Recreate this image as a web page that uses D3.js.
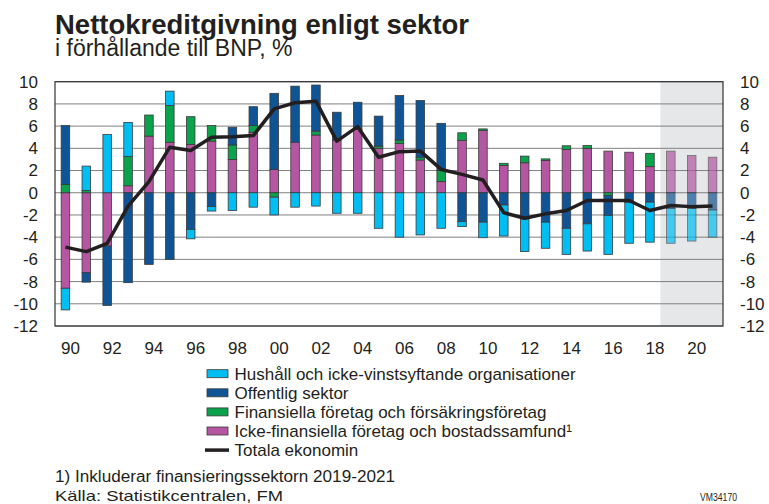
<!DOCTYPE html>
<html>
<head>
	<meta charset="utf-8">
	<title>Nettokreditgivning enligt sektor</title>
	<script src="https://cdn.jsdelivr.net/npm/d3@7"></script>
	<style>
		body {
			margin: 0;
			background: #ffffff;
			font-family: "Liberation Sans", Arial, Helvetica, sans-serif;
		}
		text { fill: #231f20; }
	</style>
</head>
<body>
	<div id="chart"></div>

	<script>

		// data (% of GDP)

		const years = d3.range(1990, 2022);
		const hushall     = [-1.95, 2.2, 5.25, 3.05, 0, 1.3, -0.85, -0.4, -1.6, -1.3, -1.6, -1.3, -1.2, -1.85, -1.85, -3.2, -4.0, -3.8, -3.2, -0.45, -1.4, -2.8, -2.95, -2.35, -2.35, -2.45, -3.5, -3.7, -3.6, -3.15, -2.95, -2.45];
		const offentlig   = [5.3, -0.85, -5.35, -8.1, -6.45, -6.0, -3.3, -1.25, 1.6, 1.7, 6.85, 5.05, 4.15, 2.5, 2.45, 2.7, 4.0, 5.1, 4.25, -2.6, -2.65, -1.1, -2.35, -2.65, -3.2, -2.8, -1.8, -0.85, -0.85, -1.4, -1.4, -1.55];
		const finansiella = [0.75, 0.2, 0, 2.65, 1.9, 3.3, 2.5, 1.4, 1.3, 0.6, -0.4, 0, 0.35, 0, 0, 0.2, 0.3, 0.25, 1.0, 0.7, 0.15, 0.2, 0.6, 0.15, 0.33, 0.25, -0.25, 0, 1.2, 0, 0, 0];
		const ickeFin     = [-8.6, -7.2, -4.8, 0.63, 5.1, 4.55, 4.35, 4.65, 3.0, 5.45, 2.1, 4.55, 5.2, 4.75, 5.7, 4.0, 4.45, 2.95, 1.0, 4.7, 5.6, 2.45, 2.7, 2.9, 3.9, 4.0, 3.75, 3.65, 2.35, 3.75, 3.35, 3.2];
		const totala      = [-4.9, -5.3, -4.55, -1.2, 1.0, 4.1, 3.8, 5.0, 5.05, 5.15, 7.55, 8.1, 8.25, 4.65, 5.95, 3.2, 3.7, 3.75, 2.1, 1.65, 1.15, -1.8, -2.3, -1.9, -1.6, -0.7, -0.7, -0.7, -1.6, -1.15, -1.25, -1.2];
		const yTicks = d3.range(-12, 11, 2);
		const xTickYears = d3.range(1990, 2022, 2);
		const forecastFrom = 2019;

		const seriesKeys  = ["icke", "fin", "off", "hh"];   // stacking order from zero
		const seriesNames = {
			hh:   "Hushåll och icke-vinstsyftande organisationer",
			off:  "Offentlig sektor",
			fin:  "Finansiella företag och försäkringsföretag",
			icke: "Icke-finansiella företag och bostadssamfund\u00b9"
		};
		const legendOrder = ["hh", "off", "fin", "icke"];
		const colors = { hh: "#00bdf2", off: "#0f5596", fin: "#0aa24b", icke: "#b456a1" };

		// layout

		const width = 769, height = 504;
		const plot = { left: 55, right: 723, top: 81.7, bottom: 326 };

		const rows = years.map((y, i) => ({
			year: y, hh: hushall[i], off: offentlig[i], fin: finansiella[i], icke: ickeFin[i], tot: totala[i]
		}));

		const x = d3.scaleBand()
				.domain(years)
				.range([plot.left, plot.right])
				.paddingInner(0.59)
				.paddingOuter(0.295);

		const y = d3.scaleLinear()
				.domain([-12, 10])
				.range([plot.bottom, plot.top]);

		const svg = d3.select("#chart")
				.append("svg")
				.attr("width", width)
				.attr("height", height)
				.attr("viewBox", [0, 0, width, height]);

		// title
		svg.append("text")
				.attr("x", 55).attr("y", 34)
				.style("font-size", "27.5px")
				.style("font-weight", "bold")
				.text("Nettokreditgivning enligt sektor");
		svg.append("text")
				.attr("x", 55).attr("y", 56)
				.style("font-size", "23px")
				.text("i förhållande till BNP, %");

		// forecast shading
		const shadeX = x(forecastFrom) - x.step() * x.paddingInner() / 2;
		svg.append("rect")
				.attr("x", shadeX)
				.attr("y", plot.top)
				.attr("width", plot.right - shadeX)
				.attr("height", plot.bottom - plot.top)
				.attr("fill", "#e6e7e9");

		// grid
		svg.append("g")
				.selectAll("line")
				.data(yTicks)
				.join("line")
				.attr("x1", plot.left).attr("x2", plot.right)
				.attr("y1", d => y(d)).attr("y2", d => y(d))
				.attr("stroke", "#808080")
				.attr("stroke-width", 1);

		// stacked bars
		const stack = d3.stack()
				.keys(seriesKeys)
				.offset(d3.stackOffsetDiverging);
		const stacked = stack(rows);

		svg.append("g")
				.selectAll("g")
				.data(stacked)
				.join("g")
				.attr("fill", d => colors[d.key])
				.selectAll("rect")
				.data(d => d.filter(s => s[1] - s[0] !== 0))
				.join("rect")
				.attr("x", d => x(d.data.year))
				.attr("width", x.bandwidth())
				.attr("y", d => y(Math.max(d[0], d[1])))
				.attr("height", d => Math.abs(y(d[0]) - y(d[1])))
				.attr("stroke", "#3a3a3a")
				.attr("stroke-width", 0.8)
				.attr("opacity", d => d.data.year >= forecastFrom ? 0.7 : 1);

		// total line
		const line = d3.line()
				.x(d => x(d.year) + x.bandwidth() / 2)
				.y(d => y(d.tot));
		svg.append("path")
				.datum(rows)
				.attr("fill", "none")
				.attr("stroke", "#231f20")
				.attr("stroke-width", 3.5)
				.attr("stroke-linejoin", "round")
				.attr("d", line);

		// frame
		svg.append("rect")
				.attr("x", plot.left).attr("y", plot.top)
				.attr("width", plot.right - plot.left)
				.attr("height", plot.bottom - plot.top)
				.attr("fill", "none")
				.attr("stroke", "#333333")
				.attr("stroke-width", 1.2);

		// axes
		const fmtY = d => d < 0 ? "-" + Math.abs(d) : String(d);

		const leftAxis = svg.append("g")
				.attr("transform", `translate(${plot.left},0)`)
				.call(d3.axisLeft(y).tickValues(yTicks).tickSize(0).tickPadding(17).tickFormat(fmtY));
		const rightAxis = svg.append("g")
				.attr("transform", `translate(${plot.right},0)`)
				.call(d3.axisRight(y).tickValues(yTicks).tickSize(0).tickPadding(17).tickFormat(fmtY));
		const bottomAxis = svg.append("g")
				.attr("transform", `translate(5,${plot.bottom})`)
				.call(d3.axisBottom(x).tickValues(xTickYears).tickSize(0).tickPadding(16)
						.tickFormat(d => String(d).slice(2)));

		[leftAxis, rightAxis, bottomAxis].forEach(a => {
			a.select(".domain").remove();
			a.selectAll("text")
					.style("font-size", "17px")
					.style("font-family", "'Liberation Sans', Arial, sans-serif")
					.attr("fill", "#231f20");
		});

		// legend
		const legend = svg.append("g");
		const legendY = d => 373.7 + d * 19.1;
		legendOrder.forEach((k, i) => {
			legend.append("rect")
					.attr("x", 207).attr("y", legendY(i) - 4)
					.attr("width", 21).attr("height", 8)
					.attr("fill", colors[k])
					.attr("stroke", "#3a3a3a")
					.attr("stroke-width", 0.8);
			legend.append("text")
					.attr("x", 234.5).attr("y", legendY(i))
					.attr("dy", "0.35em")
					.style("font-size", "17px")
					.text(seriesNames[k]);
		});
		legend.append("line")
				.attr("x1", 205).attr("x2", 229)
				.attr("y1", legendY(4)).attr("y2", legendY(4))
				.attr("stroke", "#231f20")
				.attr("stroke-width", 3.5);
		legend.append("text")
				.attr("x", 234.5).attr("y", legendY(4))
				.attr("dy", "0.35em")
				.style("font-size", "17px")
				.text("Totala ekonomin");

		// notes
		svg.append("text")
				.attr("x", 55).attr("y", 482)
				.style("font-size", "16px")
				.attr("textLength", 340)
				.attr("lengthAdjust", "spacingAndGlyphs")
				.text("1) Inkluderar finansieringssektorn 2019-2021");
		svg.append("text")
				.attr("x", 55).attr("y", 501)
				.style("font-size", "15px")
				.attr("textLength", 228)
				.attr("lengthAdjust", "spacingAndGlyphs")
				.text("Källa: Statistikcentralen, FM");
		svg.append("text")
				.attr("x", 700).attr("y", 501)
				.style("font-size", "10px")
				.attr("textLength", 37)
				.attr("lengthAdjust", "spacingAndGlyphs")
				.text("VM34170");

	</script>
</body>
</html>
